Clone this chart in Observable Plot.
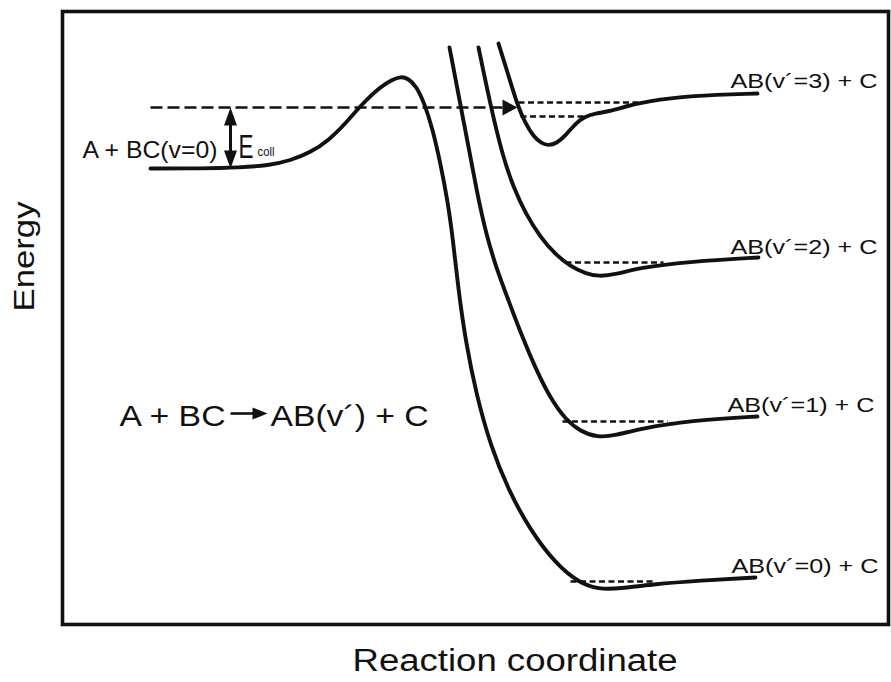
<!DOCTYPE html>
<html><head><meta charset="utf-8">
<script src="https://cdn.jsdelivr.net/npm/d3@7"></script>
<script src="https://cdn.jsdelivr.net/npm/@observablehq/plot@0.6"></script>
<style>body{margin:0;background:#fff} svg{display:block}</style>
</head><body><div id="chart"></div>
<script>
// Reaction coordinate (x) and energy (e), arbitrary units
const reactantX = [88,138,178,206,228,248,266,283,300,318,330,338,346,354,362,370,378,385,390,396,403,414,428,446,468,493,516,536,558,588,638,693];
const reactantE = [456,456,457,459,464,472,484,501,521,538,545,548,546,538,521,496,461,424,389,334,284,229,179,134,94,61,42,35,36,40,44,47];
const v1X = [387,401,415,424,434,446,460,474,488,503,518,535,553,578,628,695];
const v1E = [577,504,429,389,356,324,287,254,226,205,193,187,189,196,204,208];
const v2X = [416,428,440,451,463,478,493,508,523,536,553,578,628,696];
const v2E = [577,519,469,437,411,387,370,358,351,348,350,357,363,367];
const v3X = [436,446,455,463,471,479,486,494,503,513,522,533,546,563,583,628,695];
const v3E = [581,549,519,501,488,481,479,481,489,501,508,511,513,518,523,529,531];

// vibrational levels (dashed)
const levelE  = [43, 203, 362, 522, 508];
const levelX1 = [508, 500, 503, 456, 458];
const levelX2 = [592, 605, 601, 578, 521];

// product labels
const productLabels = ["AB(v\u00B4=0) + C", "AB(v\u00B4=1) + C", "AB(v\u00B4=2) + C", "AB(v\u00B4=3) + C"];
const productLabelE = [52, 213, 371, 537];
const productLabelX = [669, 665, 668, 668];

// collision energy
const collisionE = 517;
const collisionX = [88, 455];
const reactantLevelE = 456;
const ecollX = 168;

// reaction formula
const formulaLeft = "A + BC";
const formulaRight = "AB(v\u00B4) + C";
const formulaE = 199;
const formulaX = [57, 208];
const formulaArrowX = [168, 205];
const formulaArrowE = 211;

const toPts = (xs, es) => xs.map((x, i) => ({x, e: es[i]}));

const head = (L, hw) => ({draw(ctx) { ctx.moveTo(0, 0); ctx.lineTo(hw, L); ctx.lineTo(-hw, L); ctx.closePath(); }});
const ink = "#111";
const font = "Liberation Sans, Arial, Helvetica, sans-serif";
const curveStyle = {x: "x", y: "e", stroke: ink, strokeWidth: 3.9, curve: "basis"};

const plot = Plot.plot({
  width: 891, height: 682,
  marginLeft: 62, marginRight: 3, marginTop: 11, marginBottom: 58,
  x: {domain: [0, 826], axis: null},
  y: {domain: [0, 613], axis: null},
  style: {background: "#fff", color: ink, fontFamily: font},
  marks: [
    Plot.frame({stroke: ink, strokeWidth: 3.6}),
    // vibrational levels
    Plot.link(levelE, {x1: levelX1, x2: levelX2, y1: levelE, y2: levelE, stroke: ink, strokeWidth: 2.4, strokeDasharray: "6,3.5"}),
    // collision energy line
    Plot.link([collisionE], {x1: collisionX[0], x2: collisionX[1] - 13, y1: collisionE, y2: collisionE, stroke: ink, strokeWidth: 2.7, strokeDasharray: "12,5"}),
    Plot.dot([collisionE], {x: collisionX[1], y: d => d, r: 5, symbol: head(15, 8), rotate: 90, fill: ink, stroke: "none"}),
    // E_coll double arrow
    Plot.link([0], {x1: ecollX, x2: ecollX, y1: reactantLevelE + 10, y2: collisionE - 10, stroke: ink, strokeWidth: 3}),
    Plot.dot([collisionE], {x: ecollX, y: d => d, r: 5, symbol: head(18, 6.5), rotate: 0, fill: ink, stroke: "none"}),
    Plot.dot([reactantLevelE], {x: ecollX, y: d => d, r: 5, symbol: head(18, 6.5), rotate: 180, fill: ink, stroke: "none"}),
    // potential curves
    Plot.line(toPts(reactantX, reactantE), curveStyle),
    Plot.line(toPts(v1X, v1E), curveStyle),
    Plot.line(toPts(v2X, v2E), curveStyle),
    Plot.line(toPts(v3X, v3E), curveStyle),
    // formula arrow
    Plot.link([0], {x1: formulaArrowX[0], x2: formulaArrowX[1] - 10, y1: formulaArrowE, y2: formulaArrowE, stroke: ink, strokeWidth: 2.6}),
    Plot.dot([formulaArrowE], {x: formulaArrowX[1], y: d => d, r: 5, symbol: head(15, 6), rotate: 90, fill: ink, stroke: "none"}),
    // labels
    Plot.text(productLabels, {x: productLabelX, y: productLabelE, text: d => d, textAnchor: "start", lineAnchor: "bottom", fontSize: 21, fill: ink}),
    Plot.text(["A + BC(v=0)"], {x: 20, y: 467, text: d => d, textAnchor: "start", lineAnchor: "bottom", fontSize: 24, fill: ink}),
    Plot.text(["E"], {x: 176, y: 467, text: d => d, textAnchor: "start", lineAnchor: "bottom", fontSize: 25, fill: ink}),
    Plot.text(["coll"], {x: 195, y: 469, text: d => d, textAnchor: "start", lineAnchor: "bottom", fontSize: 13, fill: ink}),
    Plot.text([formulaLeft, formulaRight], {x: formulaX, y: formulaE, text: d => d, textAnchor: "start", lineAnchor: "bottom", fontSize: 30, fill: ink}),
    Plot.text(["Energy"], {x: -29, y: 313, text: d => d, rotate: -90, textAnchor: "start", lineAnchor: "bottom", fontSize: 29, fill: ink}),
    Plot.text(["Reaction coordinate"], {x: 290, y: -46, text: d => d, textAnchor: "start", lineAnchor: "bottom", fontSize: 31, fill: ink})
  ]
});

// stretch glyphs like the original artwork
const widths = new Map([
  ["A + BC(v=0)", 135], ["E", 15], ["coll", 17],
  ["A + BC", 106], ["AB(v\u00B4) + C", 158],
  ["Energy", 110], ["Reaction coordinate", 325]
]);
productLabels.forEach(l => widths.set(l, 147));
plot.querySelectorAll("text").forEach(t => {
  const content = t.textContent;
  const w = widths.get(content);
  if (w) { t.setAttribute("textLength", w); t.setAttribute("lengthAdjust", "spacingAndGlyphs"); }
  if (content === "E") {
    // tall, narrow E as in the original (scaled vertically about its baseline anchor)
    const x = +(t.getAttribute("x") || 0), y = +(t.getAttribute("y") || 0);
    const tr = t.getAttribute("transform") || "";
    t.setAttribute("transform", `${tr} translate(${x},${y}) scale(1,1.35) translate(${-x},${-y})`.trim());
  }
});
document.getElementById("chart").appendChild(plot);
</script>
</body></html>
